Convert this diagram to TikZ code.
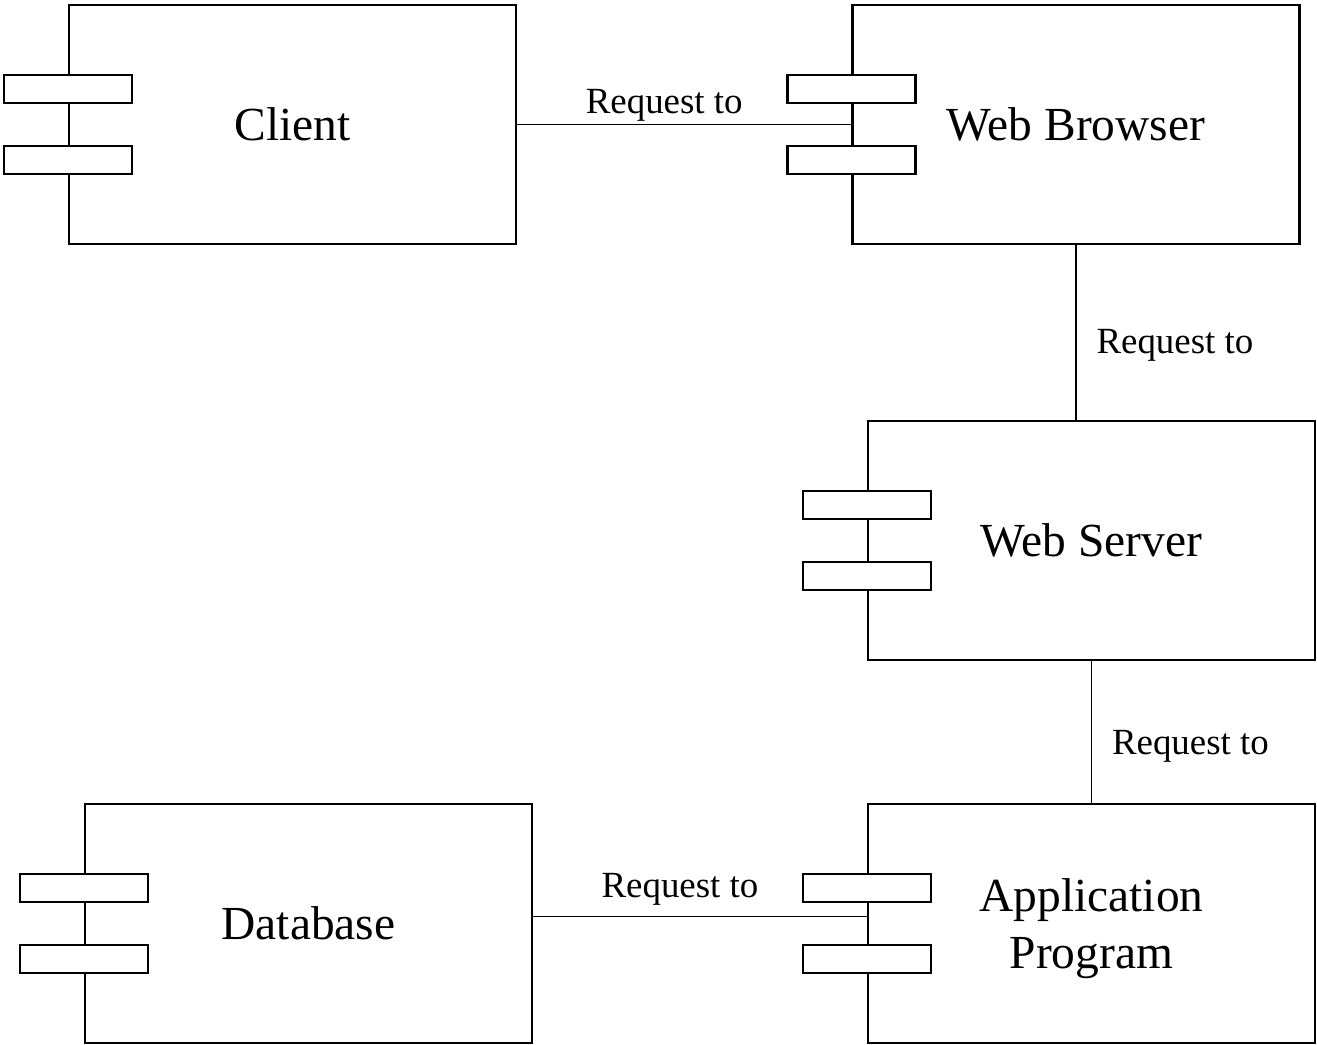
\documentclass[tikz,border=0pt]{standalone}
\usepackage{fontspec}
\setmainfont{Liberation Serif}
\usepackage{tikz}

\begin{document}
\begin{tikzpicture}[
  componentnode/.style={rectangle, draw=black, line width=1.4pt, minimum width=8.94cm, minimum height=4.78cm, align=center, text depth=0pt, font=\fontsize{27}{32.4}\selectfont},
  tabnode/.style={rectangle, draw=black, fill=white, line width=1.4pt, minimum width=2.56cm, minimum height=0.55cm, inner sep=0pt},
  labelnode/.style={inner sep=0pt, font=\fontsize{21}{25}\selectfont},
  ]
\useasboundingbox (0,0) rectangle (26.34,20.9);

\node[componentnode] (client) at (5.85,18.41) {Client};
\node[componentnode] (browser) at (21.52,18.41) {Web Browser};
\node[componentnode] (server) at (21.83,10.09) {Web Server};
\node[componentnode] (app) at (21.83,2.43) {Application\\Program};
\node[componentnode] (db) at (6.17,2.43) {Database};

\node[tabnode] (client1) at ([yshift=0.71cm]client.west) {};
\node[tabnode] (client2) at ([yshift=-0.71cm]client.west) {};
\node[tabnode] (browser1) at ([yshift=0.71cm]browser.west) {};
\node[tabnode] (browser2) at ([yshift=-0.71cm]browser.west) {};
\node[tabnode] (server1) at ([yshift=0.71cm]server.west) {};
\node[tabnode] (server2) at ([yshift=-0.71cm]server.west) {};
\node[tabnode] (app1) at ([yshift=0.71cm]app.west) {};
\node[tabnode] (app2) at ([yshift=-0.71cm]app.west) {};
\node[tabnode] (db1) at ([yshift=0.71cm]db.west) {};
\node[tabnode] (db2) at ([yshift=-0.71cm]db.west) {};

\draw[line width=0.6pt] (client.east) -- (browser.west) node[labelnode, pos=0.44, above=0.06cm] {Request to};
\draw[line width=0.6pt] (browser.south) -- (browser.south |- server.north) node[labelnode, pos=0.573, right=0.4cm] {Request to};
\draw[line width=0.6pt] (server.south) -- (app.north) node[labelnode, pos=0.6, right=0.4cm] {Request to};
\draw[line width=0.6pt] ([yshift=0.14cm]db.east) -- ([yshift=0.14cm]app.west) node[labelnode, pos=0.44, above=0.22cm] {Request to};

\end{tikzpicture}
\end{document}
